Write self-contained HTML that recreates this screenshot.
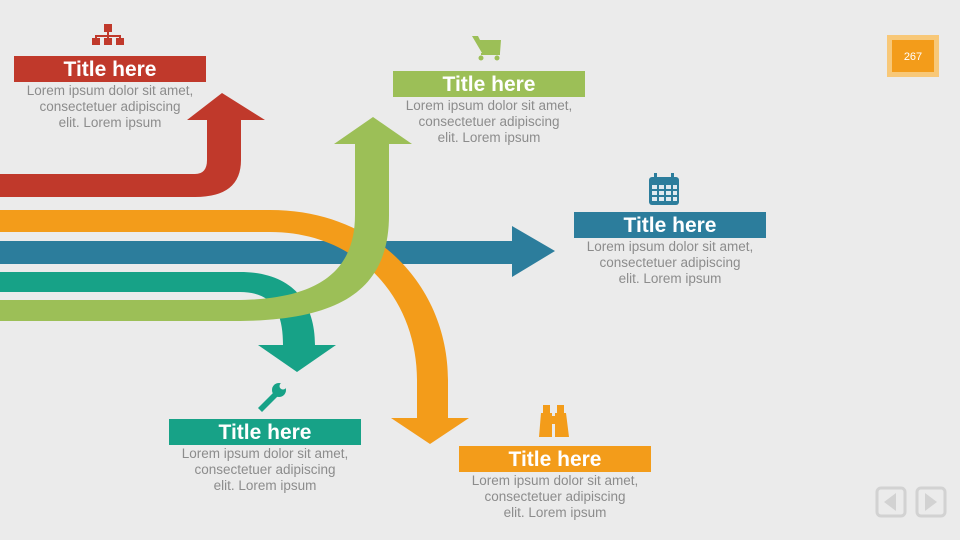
<!DOCTYPE html>
<html><head><meta charset="utf-8"><style>
body{margin:0;width:960px;height:540px;background:#ebebeb;position:relative;overflow:hidden;font-family:"Liberation Sans",sans-serif}
.bar{position:absolute;width:192px;height:26px;color:#fff;font-weight:bold;font-size:21px;line-height:28px;text-align:center}
.txt{position:absolute;width:192px;text-align:center;color:#8c8c8c;font-size:13.5px;line-height:16px}
svg{position:absolute;left:0;top:0}
</style></head><body>
<svg width="960" height="540" viewBox="0 0 960 540">
<path d="M0 174 L195 174 Q207 174 207 160 L207 120 L187 120 L222 93 L265 120 L241 120 L241 160 Q241 197 195 197 L0 197 Z" fill="#c0392b"/>
<path d="M0 241 L512 241 L512 226 L555 251 L512 277 L512 264 L0 264 Z" fill="#2c7d9c"/>
<path d="M0 272 L240 272 C290 272 315 300 315 345 L336 345 L297 372 L258 345 L283 345 C283 315 275 292 240 292 L0 292 Z" fill="#17a287"/>
<path d="M0 210 L270 210 C380 210 448 290 448 380 L448 418 L469 418 L430 444 L391 418 L417 418 L417 380 C417 300 360 232 270 232 L0 232 Z" fill="#f39c1a"/>
<path d="M0 300 L235 300 C320 300 355 270 355 215 L355 144 L334 144 L373 117 L412 144 L389 144 L389 215 C389 290 340 321 235 321 L0 321 Z" fill="#9cbf57"/>
<g fill="#c0392b"><rect x="104" y="24" width="8" height="8"/><rect x="107" y="31" width="2" height="5"/><rect x="95" y="35" width="26" height="2"/><rect x="95" y="35" width="2" height="4"/><rect x="107" y="35" width="2" height="4"/><rect x="119" y="35" width="2" height="4"/><rect x="92" y="38" width="8" height="7"/><rect x="104" y="38" width="8" height="7"/><rect x="116" y="38" width="8" height="7"/></g>
<g fill="#9cbf57"><path d="M472 36 L478 36 L480 40 L501 40 L500 53 L482 53 Z"/><rect x="481" y="53" width="19" height="2"/><circle cx="481" cy="58" r="2.5"/><circle cx="497" cy="58" r="2.5"/></g>
<g fill="#2c7d9c"><rect x="649" y="177" width="30" height="28" rx="3"/><rect x="654" y="173" width="3" height="8"/><rect x="671" y="173" width="3" height="8"/></g>
<g fill="#dfeaf0"><rect x="652" y="185" width="5" height="4"/><rect x="659" y="185" width="5" height="4"/><rect x="666" y="185" width="5" height="4"/><rect x="673" y="185" width="4" height="4"/><rect x="652" y="191" width="5" height="4"/><rect x="659" y="191" width="5" height="4"/><rect x="666" y="191" width="5" height="4"/><rect x="673" y="191" width="4" height="4"/><rect x="652" y="197" width="5" height="4"/><rect x="659" y="197" width="5" height="4"/><rect x="666" y="197" width="5" height="4"/><rect x="673" y="197" width="4" height="4"/></g>
<g fill="#17a287"><path d="M258 408 L275 391 L279 395 L262 412 Z"/><circle cx="279" cy="390" r="7"/></g><circle cx="283" cy="386" r="3.5" fill="#ebebeb"/>
<g fill="#f39c1a"><rect x="543" y="405" width="7" height="8"/><rect x="557" y="405" width="7" height="8"/><path d="M541 413 L552 413 L552 437 L539 437 Z"/><path d="M555 413 L566 413 L569 437 L555 437 Z"/><rect x="550" y="416" width="7" height="8"/></g>
<rect x="887" y="35" width="52" height="42" fill="#f8c878"/><rect x="892" y="40" width="42" height="32" fill="#f39c1a"/>
<text x="913" y="60" text-anchor="middle" fill="#fff" font-size="11" font-family="Liberation Sans">267</text>
<rect x="877" y="488" width="28" height="28" rx="4" fill="none" stroke="#d2d2d2" stroke-width="3"/>
<path d="M896 493 L884 502 L896 511 Z" fill="#d2d2d2"/>
<rect x="917" y="488" width="28" height="28" rx="4" fill="none" stroke="#d2d2d2" stroke-width="3"/>
<path d="M925 493 L937 502 L925 511 Z" fill="#d2d2d2"/>
</svg>
<div class="bar" style="left:14px;top:56px;background:#c0392b">Title here</div>
<div class="txt" style="left:0px;width:220px;top:83px">Lorem ipsum dolor sit amet,<br>consectetuer adipiscing<br>elit. Lorem ipsum</div>
<div class="bar" style="left:393px;top:71px;background:#9cbf57">Title here</div>
<div class="txt" style="left:379px;width:220px;top:98px">Lorem ipsum dolor sit amet,<br>consectetuer adipiscing<br>elit. Lorem ipsum</div>
<div class="bar" style="left:574px;top:212px;background:#2c7d9c">Title here</div>
<div class="txt" style="left:560px;width:220px;top:239px">Lorem ipsum dolor sit amet,<br>consectetuer adipiscing<br>elit. Lorem ipsum</div>
<div class="bar" style="left:169px;top:419px;background:#17a287">Title here</div>
<div class="txt" style="left:155px;width:220px;top:446px">Lorem ipsum dolor sit amet,<br>consectetuer adipiscing<br>elit. Lorem ipsum</div>
<div class="bar" style="left:459px;top:446px;background:#f39c1a">Title here</div>
<div class="txt" style="left:445px;width:220px;top:473px">Lorem ipsum dolor sit amet,<br>consectetuer adipiscing<br>elit. Lorem ipsum</div>
</body></html>
